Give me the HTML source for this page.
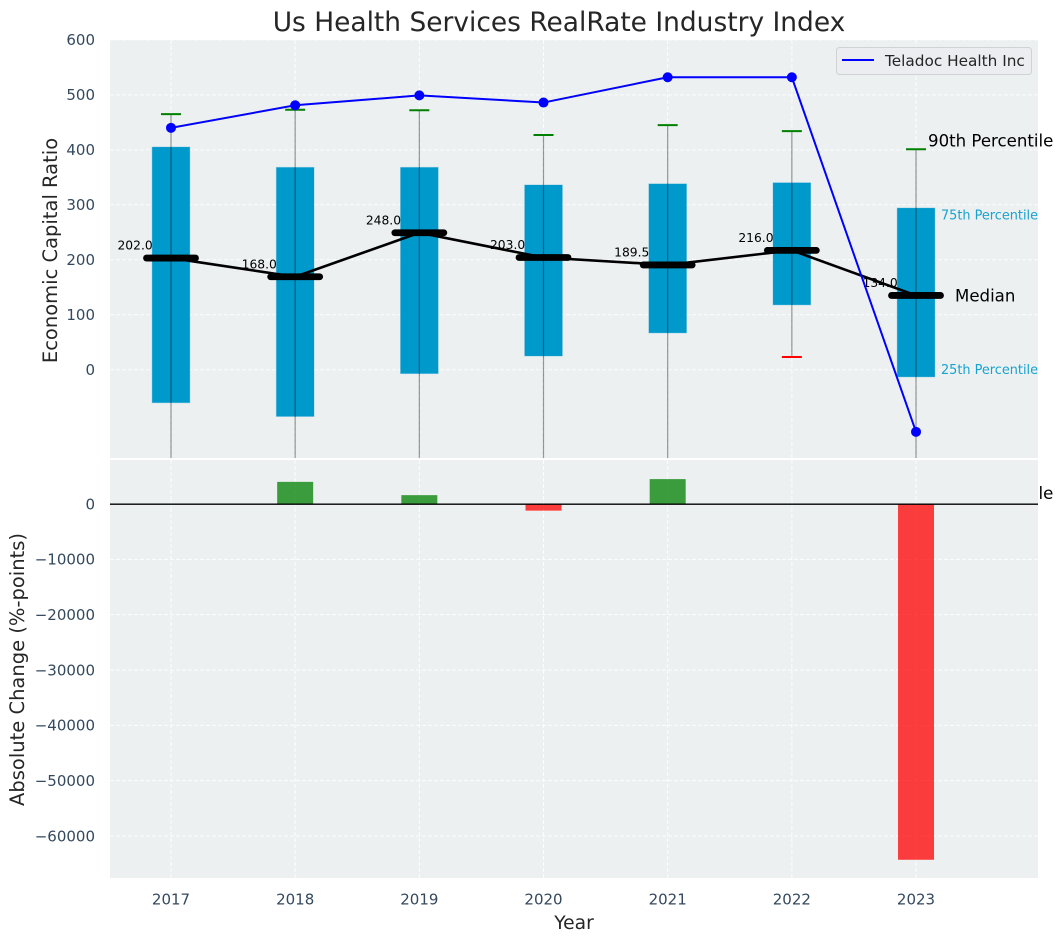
<!DOCTYPE html>
<html><head><meta charset="utf-8">
<style>html,body{margin:0;padding:0;background:#fff}svg{display:block}text{font-family:"DejaVu Sans","Liberation Sans",sans-serif}</style>
</head><body>
<svg id="chart" xmlns="http://www.w3.org/2000/svg" width="1063" height="942" viewBox="0 0 1063 942">
<defs><clipPath id="topClip"><rect x="110" y="40" width="928" height="418"/></clipPath><clipPath id="botClip"><rect x="110" y="460" width="928" height="418"/></clipPath></defs>
<rect width="1063" height="942" fill="#fff"/>
<text x="559" y="31" font-size="26.45" fill="#262626" text-anchor="middle">Us Health Services RealRate Industry Index</text>
<text transform="translate(57,250.5) rotate(-90)" font-size="19.5" fill="#262626" text-anchor="middle">Economic Capital Ratio</text>
<text transform="translate(24,669.5) rotate(-90)" font-size="19.5" fill="#262626" text-anchor="middle">Absolute Change (%-points)</text>
<text x="574" y="929" font-size="18.7" fill="#262626" text-anchor="middle">Year</text>
<g id="panelTop"></g>
<g id="panelBottom"></g>
<g>
<rect x="836.5" y="47.5" width="195" height="27" rx="3" fill="#ebedf1" stroke="#d0d2d4" stroke-width="1"/>
<line x1="842" y1="60" x2="874" y2="60" stroke="#0000ff" stroke-width="2"/>
<text x="885" y="66" font-size="15.3" fill="#262626">Teladoc Health Inc</text>
</g>
</svg>
<script>
const years = [2017, 2018, 2019, 2020, 2021, 2022, 2023];
const p90 = [465, 473, 472, 427, 445, 434, 401];
const p75 = [405, 368, 368, 336, 338, 340, 294];
const medians = [202, 168, 248, 203, 189.5, 216, 134];
const p25 = [-60, -85, -7, 25, 67, 118, -13];
const p10 = [-300, -300, -300, -300, -300, 23, -224];
const teladoc = [440, 481, 499, 486, 532, 532, -113];
const changes = [0, 4000, 1600, -1200, 4500, 0, -64300];
const topTicks = [0, 100, 200, 300, 400, 500, 600];
const bottomTicks = [-60000, -50000, -40000, -30000, -20000, -10000, 0];

const NS = 'http://www.w3.org/2000/svg';
const xPos = y => 171 + (y - 2017) * 124.17;
const yTop = v => 369.7 - v * 0.5497;
const yMed = v => yTop(v) - 0.6;
const yBot = v => 504 - v * 0.005533;
function mk(parent, tag, attrs, txt) {
  const el = document.createElementNS(NS, tag);
  for (const k in attrs) el.setAttribute(k, attrs[k]);
  if (txt !== undefined) el.textContent = txt;
  parent.appendChild(el);
  return el;
}
function label(v) { return v < 0 ? '\u2212' + Math.abs(v) : String(v); }
const panelTop = document.getElementById('panelTop');
const panelBottom = document.getElementById('panelBottom');
const tickCol = '#34495e';
const gridStyle = {stroke: '#fff', 'stroke-width': 1, 'stroke-dasharray': '4 2', 'stroke-opacity': 0.85};

/* top panel */
const bgT = mk(panelTop, 'rect', {x: 110, y: 40, width: 928, height: 418, fill: '#ecf0f1'});


const plotT = mk(panelTop, 'g', {'clip-path': 'url(#topClip)'});


topTicks.forEach(t => {
  const g = mk(plotT, 'line', Object.assign({x1: 110, x2: 1038, y1: yTop(t), y2: yTop(t)}, gridStyle));
  
  
  const l = mk(panelTop, 'text', {x: 95, y: yTop(t) + 5.3, 'font-size': 15, fill: tickCol, 'text-anchor': 'end'}, label(t));
  
  
});
years.forEach(y => {
  const g = mk(plotT, 'line', Object.assign({x1: xPos(y), x2: xPos(y), y1: 40, y2: 458}, gridStyle));
  
  
});
years.forEach((y, i) => {
  const x = xPos(y);
  const box = mk(plotT, 'rect', {x: x - 18.8, width: 37.6, y: yTop(p75[i]), height: yTop(p25[i]) - yTop(p75[i]), fill: '#0099cc', stroke: '#0099cc', 'stroke-opacity': 0.3, 'stroke-width': 1});
  
  
  const w = mk(plotT, 'line', {x1: x, x2: x, y1: yTop(p90[i]), y2: yTop(p10[i]), stroke: '#000', 'stroke-opacity': 0.4, 'stroke-width': 1.2});
  
  
  const c1 = mk(plotT, 'line', {x1: x - 10, x2: x + 10, y1: yTop(p90[i]), y2: yTop(p90[i]), stroke: '#008000', 'stroke-width': 2});
  
  
  const c2 = mk(plotT, 'line', {x1: x - 10, x2: x + 10, y1: yTop(p10[i]), y2: yTop(p10[i]), stroke: '#ff0000', 'stroke-width': 2});
  
  
  const t = mk(plotT, 'text', {x: x - 18.3, y: yMed(medians[i]) - 8.5, 'font-size': 12.3, fill: '#000', 'text-anchor': 'end'}, medians[i].toFixed(1));
  
  
});
const medLine = mk(plotT, 'polyline', {points: years.map((y, i) => xPos(y) + ',' + yMed(medians[i])).join(' '), fill: 'none', stroke: '#000', 'stroke-width': 2.6});


years.forEach((y, i) => {
  const x = xPos(y);
  const m = mk(plotT, 'line', {x1: x - 24.5, x2: x + 24.5, y1: yMed(medians[i]), y2: yMed(medians[i]), stroke: '#000', 'stroke-width': 6.8, 'stroke-linecap': 'round'});
  
  
});
const tel = mk(plotT, 'polyline', {points: years.map((y, i) => xPos(y) + ',' + yTop(teladoc[i])).join(' '), fill: 'none', stroke: '#0000ff', 'stroke-width': 2});


years.forEach((y, i) => {
  const p = mk(plotT, 'circle', {cx: xPos(y), cy: yTop(teladoc[i]), r: 5, fill: '#0000ff'});
  
  
});
const lastI = years.length - 1;
const lastX = xPos(years[lastI]);
const a90 = mk(panelTop, 'text', {x: lastX + 12, y: yTop(p90[lastI]) - 3, 'font-size': 16.6, fill: '#000'}, '90th Percentile');


const a75 = mk(panelTop, 'text', {x: lastX + 25, y: yTop(p75[lastI]) + 11.5, 'font-size': 12.85, fill: '#0099cc', 'fill-opacity': 0.9}, '75th Percentile');


const aMed = mk(panelTop, 'text', {x: lastX + 39, y: yMed(medians[lastI]) + 6, 'font-size': 16.6, fill: '#000'}, 'Median');


const a25 = mk(panelTop, 'text', {x: lastX + 25, y: yTop(p25[lastI]) - 3, 'font-size': 12.85, fill: '#0099cc', 'fill-opacity': 0.9}, '25th Percentile');


const a10 = mk(panelTop, 'text', {x: lastX + 12, y: yTop(p10[lastI]) + 6, 'font-size': 16.6, fill: '#000'}, '10th Percentile');



/* bottom panel */
const bgB = mk(panelBottom, 'rect', {x: 110, y: 460, width: 928, height: 418, fill: '#ecf0f1'});


const plotB = mk(panelBottom, 'g', {'clip-path': 'url(#botClip)'});


bottomTicks.forEach(t => {
  const g = mk(plotB, 'line', Object.assign({x1: 110, x2: 1038, y1: yBot(t), y2: yBot(t)}, gridStyle));
  
  
  const l = mk(panelBottom, 'text', {x: 95, y: yBot(t) + 5.3, 'font-size': 15, fill: tickCol, 'text-anchor': 'end'}, label(t));
  
  
});
years.forEach((y, i) => {
  const x = xPos(y);
  const g = mk(plotB, 'line', Object.assign({x1: x, x2: x, y1: 460, y2: 878}, gridStyle));
  
  
  const v = changes[i];
  const b = mk(plotB, 'rect', {x: x - 18, width: 36, y: Math.min(yBot(v), yBot(0)), height: Math.abs(yBot(v) - yBot(0)), fill: v >= 0 ? '#008000' : '#ff0000', 'fill-opacity': 0.75});
  
  
  const l = mk(panelBottom, 'text', {x: x, y: 904.5, 'font-size': 15, fill: tickCol, 'text-anchor': 'middle'}, String(y));
  
  
});
const zero = mk(plotB, 'line', {x1: 110, x2: 1038, y1: yBot(0) + 0.2, y2: yBot(0) + 0.2, stroke: '#000', 'stroke-width': 1.3});


</script>
</body></html>
